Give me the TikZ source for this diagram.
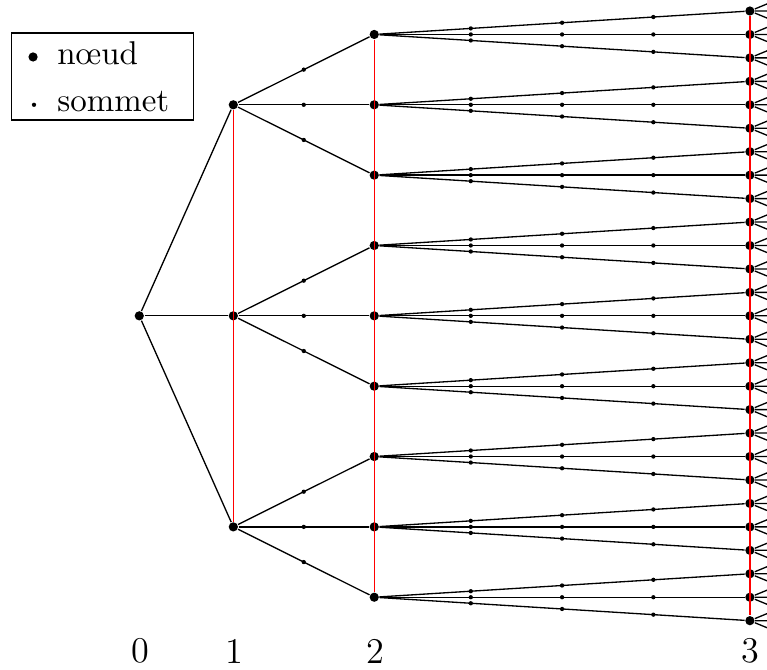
\documentclass[tikz,border=0pt]{standalone}
\usepackage{tikz}

\begin{document}
\begin{tikzpicture}[
  x=0.25cm, y=0.25cm,
  noeud/.style={circle, fill=black, inner sep=0pt, minimum size=2.8pt},
  sommet/.style={circle, fill=black, inner sep=0pt, minimum size=1.3pt},
  arete/.style={black, line width=0.4pt},
  rang/.style={red, line width=0.4pt},
  niveau/.style={font=\fontsize{11}{13}\selectfont, inner sep=0pt},
  legtexte/.style={anchor=base west, inner sep=0pt}
]
\useasboundingbox (0,-15.1) rectangle (32.71,13.47);
\clip (0,-15.1) rectangle (32.71,13.47);

% noeuds
\node[noeud] (n0) at (5.94,0) {};
\foreach \i in {1,2,3} \node[noeud] (n1-\i) at (9.95,{9*(2-\i)}) {};
\foreach \j in {1,...,9} \node[noeud] (n2-\j) at (15.96,{3*(5-\j)}) {};
\foreach \k in {1,...,27} \node[noeud] (n3-\k) at (31.98,{14-\k}) {};

% aretes
\foreach \i in {1,2,3} \draw[arete] (n0) -- (n1-\i);
\foreach \j in {1,...,9} {
  \pgfmathtruncatemacro\pere{(\j+2)/3}
  \draw[arete] (n1-\pere) -- node[sommet] (s2-\j) {} (n2-\j);
}
\foreach \k in {1,...,27} {
  \pgfmathtruncatemacro\pere{(\k+2)/3}
  \draw[arete] (n2-\pere) -- node[sommet, pos=.25] (s3-\k-a) {}
    node[sommet, pos=.5] (s3-\k-b) {} node[sommet, pos=.75] (s3-\k-c) {} (n3-\k);
}

% rangs
\draw[rang] (n1-1) -- (n1-3);
\draw[rang] (n2-1) -- (n2-9);
\draw[rang] (n3-1) -- (n3-27);

% eventails
\foreach \k in {1,...,27} {
  \coordinate (f\k-a) at (33,{14-\k+0.42});
  \coordinate (f\k-b) at (33,{14-\k});
  \coordinate (f\k-c) at (33,{14-\k-0.42});
  \draw[arete] (n3-\k) -- (f\k-a) (n3-\k) -- (f\k-b) (n3-\k) -- (f\k-c);
}

% legende
\node[draw, inner sep=0pt, minimum width=1.94cm, minimum height=0.9275cm, anchor=south west] (legende) at (0.47,8.32) {};
\node[noeud] (leg-n) at (1.41,11.04) {};
\node[legtexte] (leg-nt) at (2.42,10.70) {nœud};
\node[sommet] (leg-s) at (1.45,9.0) {};
\node[legtexte] (leg-st) at (2.42,8.70) {sommet};

% niveaux
\foreach \x/\n in {6/0,10/1,16/2,32/3} \node[niveau] (niv\n) at (\x,-14.3) {\n};
\end{tikzpicture}
\end{document}
